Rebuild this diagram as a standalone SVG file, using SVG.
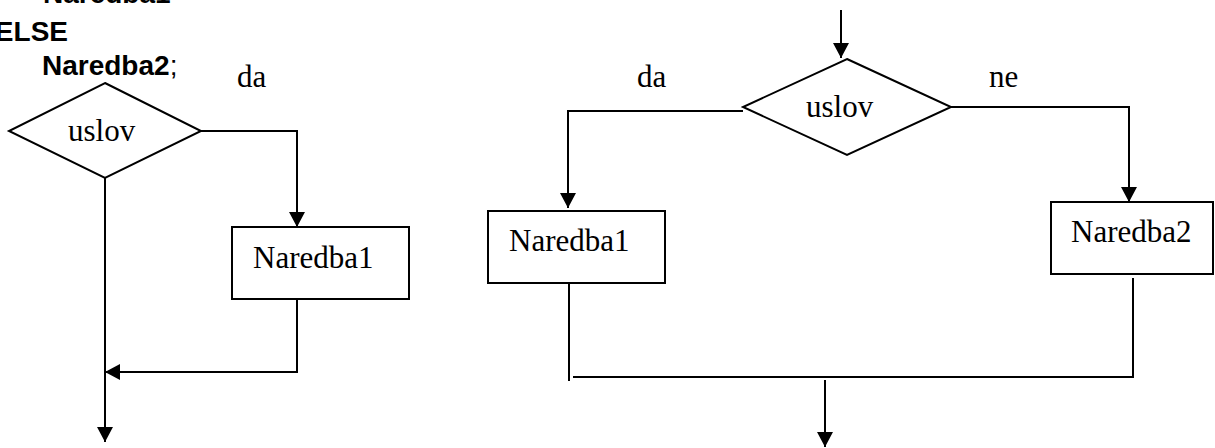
<svg xmlns="http://www.w3.org/2000/svg" width="1215" height="448" viewBox="0 0 1215 448">
  <style>
    .code { font-family: "Liberation Sans", Arial, sans-serif; font-size: 28px; font-weight: bold; fill: #000; }
    .lbl { font-family: "Liberation Serif", "Times New Roman", serif; font-size: 31px; fill: #000; }
    .shape { fill: #fff; stroke: #000; stroke-width: 2; }
    .wire { fill: none; stroke: #000; stroke-width: 2; }
  </style>
  <defs>
    <marker id="arrow" markerUnits="userSpaceOnUse" markerWidth="16" markerHeight="16" refX="15" refY="8" orient="auto">
      <path d="M0,0 L15,8 L0,16 z" fill="#000"/>
    </marker>
  </defs>

  <rect width="1215" height="448" fill="#fff"/>

  <!-- code fragment -->
  <g id="code">
    <text class="code" x="43" y="3">Naredba1</text>
    <text class="code" x="68" y="41" text-anchor="end">ELSE</text>
    <text class="code" x="42" y="75">Naredba2<tspan font-weight="normal">;</tspan></text>
  </g>

  <!-- connectors -->
  <g id="connectors">
    <!-- IF-THEN -->
    <path class="wire" d="M201,131 H297 V227" marker-end="url(#arrow)"/>
    <path class="wire" d="M297,299 V372 H105" marker-end="url(#arrow)"/>
    <path class="wire" d="M105,178 V442" marker-end="url(#arrow)"/>
    <!-- IF-THEN-ELSE -->
    <path class="wire" d="M841,10 V58" marker-end="url(#arrow)"/>
    <path class="wire" d="M743,111 H568 V208" marker-end="url(#arrow)"/>
    <path class="wire" d="M951,107 H1129 V202" marker-end="url(#arrow)"/>
    <path class="wire" d="M569,283 V381"/>
    <path class="wire" d="M573,377 H1133 V278"/>
    <path class="wire" d="M825,380 V447" marker-end="url(#arrow)"/>
  </g>

  <!-- IF-THEN -->
  <g id="cond1">
    <polygon class="shape" points="105,83 201,131 105,178 9,131"/>
    <text class="lbl" x="68" y="141">uslov</text>
  </g>
  <g id="stmt1a">
    <rect class="shape" x="232" y="227" width="177" height="72"/>
    <text class="lbl" x="253" y="268">Naredba1</text>
  </g>
  <text class="lbl" x="237" y="87">da</text>

  <!-- IF-THEN-ELSE -->
  <g id="cond2">
    <polygon class="shape" points="847,59 951,107 847,155 743,107"/>
    <text class="lbl" x="806" y="117">uslov</text>
  </g>
  <g id="stmt1b">
    <rect class="shape" x="488" y="211" width="177" height="72"/>
    <text class="lbl" x="509" y="251">Naredba1</text>
  </g>
  <g id="stmt2">
    <rect class="shape" x="1051" y="202" width="162" height="72"/>
    <text class="lbl" x="1071" y="242">Naredba2</text>
  </g>
  <text class="lbl" x="637" y="87">da</text>
  <text class="lbl" x="989" y="87">ne</text>
</svg>
